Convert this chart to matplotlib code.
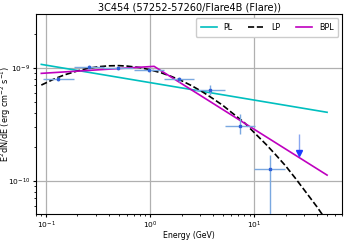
import numpy as np
import matplotlib
matplotlib.use("Agg")
import matplotlib.pyplot as plt

# Data points (SED)
energy = [0.131, 0.259, 0.495, 0.977, 1.90, 3.72, 7.23, 14.0]
flux = [7.9e-10, 1.02e-9, 9.9e-10, 9.5e-10, 7.9e-10, 6.4e-10, 3.07e-10, 1.28e-10]
flux_lo = [7.6e-10, 0.98e-9, 9.6e-10, 9.2e-10, 7.5e-10, 5.7e-10, 2.6e-10, 4.0e-11]
flux_hi = [8.2e-10, 1.06e-9, 1.02e-9, 9.8e-10, 8.3e-10, 7.1e-10, 3.9e-10, 1.7e-10]
e_lo = [0.094, 0.186, 0.355, 0.70, 1.36, 2.67, 5.18, 10.0]
e_hi = [0.184, 0.361, 0.69, 1.36, 2.65, 5.2, 10.1, 19.5]

# Upper limit
ul_energy = [27.1]
ul_flux = [2.57e-10]

# Models
pl_e = [0.09, 50.0]
pl_f = [1.07e-9, 4.03e-10]

lp_e = [0.09, 0.12, 0.15, 0.2, 0.25, 0.32, 0.4, 0.5, 0.6, 0.8, 1.0, 1.3, 1.6, 2.0,
        2.5, 3.2, 4.0, 5.0, 6.0, 8.0, 10.0, 13.0, 16.0, 20.0, 25.0, 32.0, 40.0, 50.0]
lp_f = [7.02e-10, 7.96e-10, 8.64e-10, 9.36e-10, 9.85e-10, 1.021e-9, 1.039e-9, 1.043e-9,
        1.033e-9, 1.002e-9, 9.58e-10, 8.96e-10, 8.36e-10, 7.68e-10, 6.93e-10, 6.09e-10,
        5.33e-10, 4.63e-10, 4.04e-10, 3.27e-10, 2.66e-10, 2.09e-10, 1.70e-10, 1.35e-10,
        1.04e-10, 7.7e-11, 5.86e-11, 4.36e-11]

bpl_e = [0.09, 1.09, 50.0]
bpl_f = [8.91e-10, 1.028e-9, 1.12e-10]

title = "3C454 (57252-57260/Flare4B (Flare))"

fig = plt.figure(figsize=(3.46, 2.42), dpi=100)
ax = fig.add_axes([36 / 346, 1 - 213.7 / 242, (342.3 - 36) / 346, (213.7 - 14.3) / 242])

ax.plot(pl_e, pl_f, color="c", lw=1.2, label="PL", zorder=3)
ax.plot(lp_e, lp_f, color="k", lw=1.2, ls="--", label="LP", zorder=3)
ax.plot(bpl_e, bpl_f, color="m", lw=1.2, label="BPL", zorder=3)

e = np.array(energy)
f = np.array(flux)
xerr = [e - np.array(e_lo), np.array(e_hi) - e]
yerr = [f - np.array(flux_lo), np.array(flux_hi) - f]
ax.errorbar(e, f, xerr=xerr, yerr=yerr, fmt="s", ms=2, color="#2f5fd8",
            ecolor="#7aa8e0", elinewidth=1.0, capsize=0, zorder=4)

ule = np.array(ul_energy)
ulf = np.array(ul_flux)
ax.errorbar(ule, ulf, yerr=[ulf * 0.31, np.zeros_like(ulf)], fmt="none",
            ecolor="#8aa8f0", elinewidth=1.0, zorder=4)
ax.plot(ule, ulf * 0.69, marker="v", ms=5, color="#1a3cff", ls="none", zorder=5)

ax.set_xscale("log")
ax.set_yscale("log")
ax.set_xlim(0.08, 70)
ax.set_ylim(5.1e-11, 2.97e-9)
ax.grid(True, which="major", color="#b0b0b0", lw=0.9)
ax.set_axisbelow(True)
ax.tick_params(labelsize=5.4, length=2.5, pad=1.5)
ax.tick_params(which="minor", length=1.3)
ax.set_xlabel("Energy (GeV)", fontsize=5.6, labelpad=0.5)
ax.set_ylabel(r"E$^2$dN/dE (erg cm$^{-2}$ s$^{-1}$)", fontsize=5.9)
ax.yaxis.set_label_coords(-0.074, 0.5)
ax.set_title(title, fontsize=7.0, pad=2.5)
ax.legend(loc="upper right", ncol=3, fontsize=5.8, handlelength=2.0,
          columnspacing=2.0, borderpad=0.6, framealpha=1)

fig.savefig("out.png", dpi=100)
